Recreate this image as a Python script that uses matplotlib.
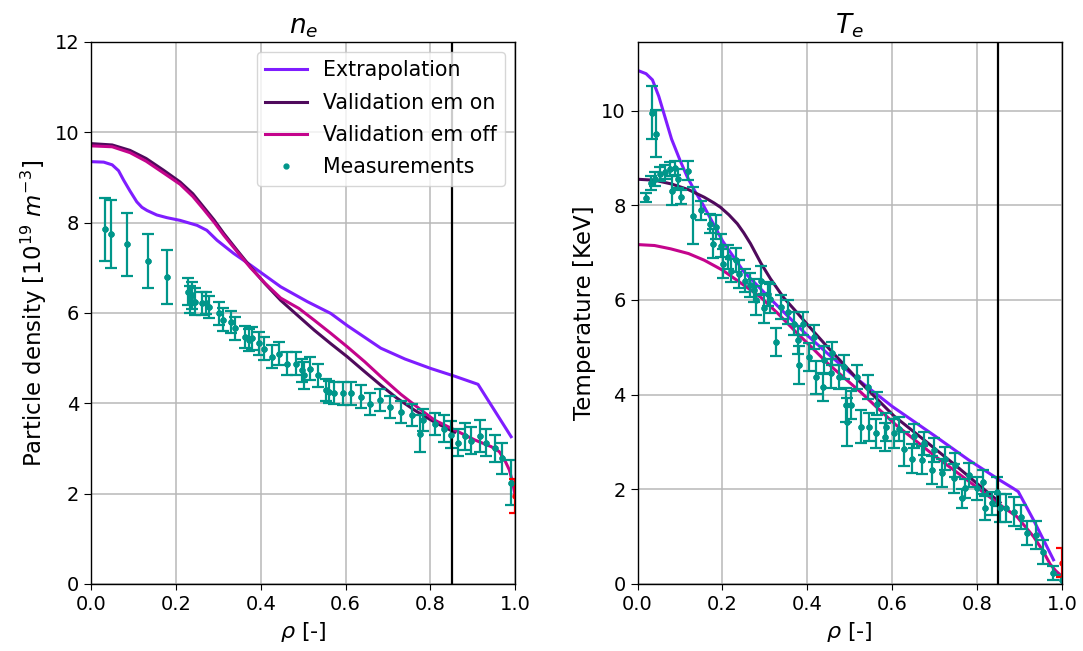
import numpy as np
import matplotlib
matplotlib.use("Agg")
import matplotlib.pyplot as plt

# ---- density (left) ----
ne_meas_x = [0.033, 0.047, 0.085, 0.135, 0.180, 0.229, 0.233, 0.239, 0.246, 0.262, 0.272, 0.279,
             0.301, 0.312, 0.329, 0.340, 0.364, 0.372, 0.380, 0.396, 0.407, 0.427, 0.443, 0.463,
             0.482, 0.498, 0.502, 0.516, 0.534, 0.553, 0.561, 0.573, 0.593, 0.612, 0.636, 0.658,
             0.682, 0.705, 0.730, 0.756, 0.776, 0.782, 0.811, 0.833, 0.849, 0.865, 0.882, 0.896,
             0.916, 0.931, 0.951, 0.969, 0.990]
ne_meas_y = [7.85, 7.75, 7.52, 7.15, 6.80, 6.47, 6.30, 6.39, 6.25, 6.21, 6.22, 6.13,
             5.99, 5.85, 5.80, 5.66, 5.47, 5.40, 5.44, 5.33, 5.21, 5.03, 5.10, 4.88,
             4.88, 4.73, 4.62, 4.77, 4.62, 4.29, 4.25, 4.23, 4.22, 4.22, 4.15, 3.98,
             4.07, 3.92, 3.81, 3.74, 3.33, 3.63, 3.54, 3.44, 3.30, 3.13, 3.27, 3.17,
             3.27, 3.13, 3.00, 2.78, 2.24]
ne_meas_err = [0.70, 0.75, 0.70, 0.60, 0.60, 0.30, 0.30, 0.30, 0.30, 0.25, 0.25, 0.25,
               0.25, 0.25, 0.25, 0.25, 0.25, 0.25, 0.25, 0.25, 0.25, 0.25, 0.25, 0.25,
               0.25, 0.25, 0.30, 0.25, 0.25, 0.25, 0.25, 0.25, 0.25, 0.25, 0.25, 0.25,
               0.25, 0.25, 0.25, 0.25, 0.40, 0.25, 0.25, 0.30, 0.30, 0.30, 0.30, 0.30,
               0.35, 0.30, 0.30, 0.35, 0.50]
ne_edge = (1.0, 1.95, 0.38)

ne_ext_x = [0.0, 0.03, 0.05, 0.065, 0.077, 0.092, 0.108, 0.12, 0.132, 0.155, 0.179, 0.21,
            0.25, 0.273, 0.297, 0.336, 0.376, 0.447, 0.51, 0.565, 0.604, 0.683, 0.74,
            0.801, 0.857, 0.912, 0.99]
ne_ext_y = [9.35, 9.34, 9.28, 9.15, 8.94, 8.70, 8.46, 8.34, 8.27, 8.17, 8.11, 8.05,
            7.94, 7.83, 7.61, 7.32, 7.06, 6.58, 6.25, 5.99, 5.72, 5.22, 4.98,
            4.77, 4.60, 4.42, 3.26]
ne_on_x = [0.0, 0.05, 0.092, 0.13, 0.171, 0.21, 0.24, 0.265, 0.29, 0.313, 0.345, 0.376,
           0.41, 0.447, 0.49, 0.526, 0.565, 0.604, 0.645, 0.683, 0.72, 0.762, 0.81, 0.857]
ne_on_y = [9.75, 9.72, 9.60, 9.42, 9.16, 8.90, 8.64, 8.35, 8.06, 7.76, 7.38, 7.02,
           6.65, 6.28, 5.92, 5.62, 5.32, 5.03, 4.70, 4.40, 4.12, 3.85, 3.58, 3.36]
ne_off_x = [0.0, 0.05, 0.092, 0.13, 0.171, 0.21, 0.24, 0.265, 0.29, 0.313, 0.345, 0.376,
            0.41, 0.447, 0.49, 0.526, 0.565, 0.604, 0.645, 0.683, 0.73, 0.778, 0.809,
            0.857, 0.904, 0.943, 0.962, 0.975, 0.986, 0.994, 1.0]
ne_off_y = [9.70, 9.68, 9.55, 9.36, 9.10, 8.85, 8.58, 8.30, 8.01, 7.72, 7.35, 7.00,
            6.66, 6.33, 6.10, 5.84, 5.55, 5.25, 4.92, 4.59, 4.20, 3.85, 3.63,
            3.41, 3.19, 3.04, 2.93, 2.74, 2.52, 2.23, 1.93]

# ---- temperature (right) ----
te_meas_x = [0.019, 0.031, 0.033, 0.041, 0.043, 0.052, 0.064, 0.076, 0.080, 0.088, 0.096, 0.103,
             0.119, 0.131, 0.150, 0.170, 0.178, 0.185, 0.197, 0.201, 0.213, 0.221, 0.232, 0.240,
             0.252, 0.264, 0.275, 0.279, 0.291, 0.299, 0.307, 0.311, 0.326, 0.338, 0.354, 0.369,
             0.377, 0.381, 0.389, 0.405, 0.416, 0.420, 0.436, 0.440, 0.455, 0.459, 0.475, 0.487,
             0.491, 0.493, 0.502, 0.518, 0.526, 0.542, 0.545, 0.561, 0.565, 0.582, 0.585, 0.604,
             0.616, 0.628, 0.647, 0.651, 0.671, 0.674, 0.694, 0.698, 0.718, 0.725, 0.745, 0.749,
             0.765, 0.772, 0.780, 0.800, 0.814, 0.819, 0.835, 0.848, 0.853, 0.869, 0.886, 0.903,
             0.917, 0.939, 0.956, 0.978, 1.000]
te_meas_y = [8.16, 8.47, 9.96, 8.56, 9.51, 8.66, 8.70, 8.77, 8.31, 8.79, 8.56, 8.17,
             8.73, 7.78, 7.89, 7.61, 7.19, 7.54, 7.15, 6.77, 6.91, 6.62, 6.84, 6.55,
             6.41, 6.31, 6.20, 5.99, 6.41, 5.82, 6.13, 6.03, 5.11, 5.85, 5.74, 5.50,
             5.15, 4.62, 5.50, 4.80, 5.22, 4.37, 4.16, 4.73, 4.45, 4.87, 4.37, 4.58,
             3.78, 3.42, 3.78, 4.37, 3.32, 4.16, 3.32, 3.18, 3.81, 3.11, 3.32, 3.18,
             3.28, 2.85, 2.65, 3.12, 2.62, 2.97, 2.41, 2.83, 2.34, 2.65, 2.23, 2.51,
             1.81, 2.02, 2.30, 2.02, 2.16, 1.60, 1.70, 1.95, 1.60, 1.60, 1.53, 1.42,
             1.07, 1.03, 0.68, 0.23, 0.08]
te_meas_err = [0.10, 0.15, 0.55, 0.15, 0.50, 0.15, 0.15, 0.15, 0.30, 0.15, 0.20, 0.15,
               0.20, 0.60, 0.20, 0.20, 0.30, 0.25, 0.25, 0.30, 0.25, 0.25, 0.25, 0.30,
               0.25, 0.25, 0.25, 0.30, 0.30, 0.30, 0.25, 0.30, 0.30, 0.25, 0.25, 0.25,
               0.30, 0.40, 0.25, 0.30, 0.25, 0.35, 0.30, 0.30, 0.30, 0.25, 0.25, 0.25,
               0.35, 0.50, 0.30, 0.25, 0.35, 0.25, 0.30, 0.30, 0.25, 0.30, 0.30, 0.30,
               0.25, 0.35, 0.30, 0.25, 0.30, 0.25, 0.30, 0.25, 0.30, 0.25, 0.30, 0.25,
               0.20, 0.20, 0.25, 0.25, 0.25, 0.25, 0.25, 0.30, 0.30, 0.30, 0.30, 0.25,
               0.25, 0.30, 0.25, 0.15, 0.10]
te_edge = (1.0, 0.45, 0.30)

te_ext_x = [0.0, 0.02, 0.035, 0.05, 0.065, 0.08, 0.1, 0.117, 0.135, 0.155, 0.2, 0.25,
            0.32, 0.4, 0.45, 0.526, 0.6, 0.7, 0.78, 0.854, 0.885, 0.897, 0.933, 0.98]
te_ext_y = [10.85, 10.78, 10.65, 10.3, 9.85, 9.4, 8.95, 8.6, 8.3, 8.0, 7.25, 6.6,
            5.96, 5.25, 4.85, 4.27, 3.75, 3.13, 2.62, 2.19, 2.02, 1.95, 1.35, 0.51]
te_on_x = [0.0, 0.04, 0.08, 0.12, 0.157, 0.18, 0.195, 0.215, 0.235, 0.25, 0.266, 0.291,
           0.313, 0.344, 0.369, 0.41, 0.448, 0.49, 0.526, 0.565, 0.604, 0.667, 0.75, 0.8, 0.854]
te_on_y = [8.55, 8.53, 8.45, 8.33, 8.17, 8.05, 7.96, 7.80, 7.61, 7.42, 7.19, 6.77,
           6.45, 6.05, 5.80, 5.38, 5.00, 4.60, 4.25, 3.90, 3.55, 3.10, 2.50, 2.12, 1.72]
te_off_x = [0.0, 0.04, 0.078, 0.12, 0.157, 0.2, 0.235, 0.265, 0.291, 0.33, 0.369, 0.41,
            0.448, 0.49, 0.526, 0.565, 0.61, 0.698, 0.776, 0.854, 0.894, 0.933, 0.955,
            0.972, 0.985, 0.995, 1.0]
te_off_y = [7.17, 7.15, 7.08, 6.98, 6.84, 6.63, 6.41, 6.22, 6.05, 5.72, 5.36, 5.00,
            4.66, 4.33, 4.05, 3.72, 3.35, 2.72, 2.20, 1.67, 1.42, 1.00, 0.70,
            0.42, 0.28, 0.20, 0.15]

C_EXT = "#7f1dff"
C_ON = "#4f0a5c"
C_OFF = "#c4048c"
C_MEAS = "#00968a"
RHO_SEP = 0.85

plt.rcParams["font.size"] = 14
plt.rcParams["xtick.major.size"] = 4.5
plt.rcParams["ytick.major.size"] = 5
plt.rcParams["axes.linewidth"] = 1.0

fig, (ax1, ax2) = plt.subplots(1, 2, figsize=(10.83, 6.51), dpi=100)
fig.subplots_adjust(left=0.084, right=0.9806, top=0.9355, bottom=0.103, wspace=0.288)


def panel(ax, ext, on, off, meas, edge):
    ax.plot(ext[0], ext[1], color=C_EXT, lw=2.2, label="Extrapolation")
    ax.plot(on[0], on[1], color=C_ON, lw=2.2, label="Validation em on")
    ax.plot(off[0], off[1], color=C_OFF, lw=2.2, label="Validation em off")
    ax.errorbar(meas[0], meas[1], yerr=meas[2], fmt=".", color=C_MEAS, ms=7,
                elinewidth=1.6, capsize=4.5, capthick=1.6)
    ax.plot(meas[0], meas[1], ".", color=C_MEAS, ms=7, label="Measurements")
    ax.errorbar([edge[0]], [edge[1]], yerr=[edge[2]], fmt=".", color="red", ms=7,
                elinewidth=1.6, capsize=4.5, capthick=1.6)
    ax.axvline(RHO_SEP, color="black", lw=1.6)
    ax.set_xlim(0, 1)
    ax.grid(True, color="#b8b8b8", lw=1.1)
    ax.set_xlabel(r"$\rho$ [-]", fontsize=16)


panel(ax1, (ne_ext_x, ne_ext_y), (ne_on_x, ne_on_y), (ne_off_x, ne_off_y),
      (ne_meas_x, ne_meas_y, ne_meas_err), ne_edge)
ax1.set_ylim(0, 12)
ax1.set_ylabel(r"Particle density [$10^{19}$ $m^{-3}$]", fontsize=16.5)
ax1.set_title(r"$n_e$", fontsize=19)
ax1.legend(loc="upper right", fontsize=14.8, labelspacing=0.6)

panel(ax2, (te_ext_x, te_ext_y), (te_on_x, te_on_y), (te_off_x, te_off_y),
      (te_meas_x, te_meas_y, te_meas_err), te_edge)
ax2.set_ylim(0, 11.45)
ax2.set_yticks([0, 2, 4, 6, 8, 10])
ax2.set_ylabel("Temperature [KeV]", fontsize=16.5)
ax2.set_title(r"$T_e$", fontsize=19)

fig.savefig("out.png", dpi=100)
